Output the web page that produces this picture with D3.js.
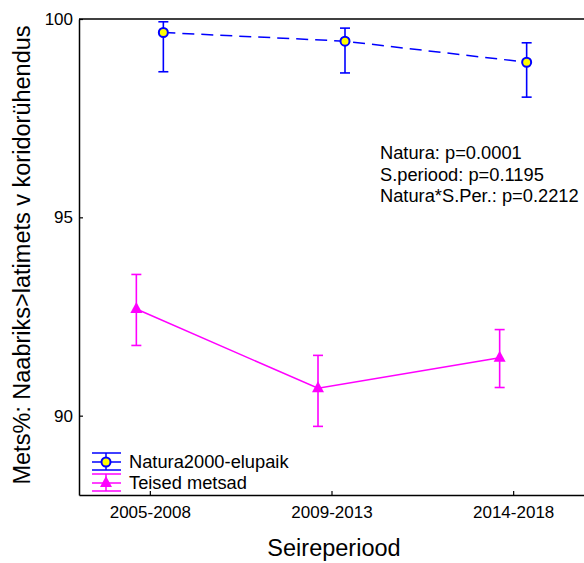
<!DOCTYPE html>
<html>
<head>
<meta charset="utf-8">
<script src="https://cdn.jsdelivr.net/npm/d3@7"></script>
<style>
  body { margin: 0; background: #fff; }
  svg { display: block; font-family: "Liberation Sans", Arial, sans-serif; }
</style>
</head>
<body>
<script>
// data
const periods = ["2005-2008", "2009-2013", "2014-2018"];
const naturaMean = [99.66, 99.44, 98.91];
const naturaLow = [98.67, 98.64, 98.03];
const naturaHigh = [99.93, 99.77, 99.40];
const teisedMean = [92.69, 90.69, 91.46];
const teisedLow = [91.77, 89.73, 90.71];
const teisedHigh = [93.56, 91.52, 92.17];
const yTicks = [90, 95, 100];
const seriesNames = ["Natura2000-elupaik", "Teised metsad"];
const pLines = ["Natura: p=0.0001", "S.periood: p=0.1195", "Natura*S.Per.: p=0.2212"];

const w = 584, h = 563;
const plotL = 79, plotT = 19, plotR = 584, plotB = 495;

const svg = d3.select("body").append("svg")
  .attr("width", w)
  .attr("height", h);

const x = d3.scalePoint().domain(periods).range([plotL, plotR]).padding(0.39);
const y = d3.scaleLinear().domain([88, 100]).range([plotB, plotT]);

// axes, ticks pointing inward
const xAxis = svg.append("g")
  .attr("transform", `translate(0,${plotB})`)
  .call(d3.axisBottom(x).tickSizeInner(-4).tickSizeOuter(0).tickPadding(11));
const yAxis = svg.append("g")
  .attr("transform", `translate(${plotL},0)`)
  .call(d3.axisLeft(y).tickValues(yTicks).tickSizeInner(-4).tickSizeOuter(0).tickPadding(6));
[xAxis, yAxis].forEach(function(g) {
  g.select(".domain").attr("stroke", "#000").attr("stroke-width", 1.5);
  g.selectAll(".tick line").attr("stroke", "#000").attr("stroke-width", 1.2);
  g.selectAll("text").attr("fill", "#000").attr("font-size", "17px")
    .attr("font-family", "'Liberation Sans', Arial, sans-serif");
});
// top frame line
svg.append("line")
  .attr("x1", plotL).attr("x2", plotR)
  .attr("y1", plotT).attr("y2", plotT)
  .attr("stroke", "#000").attr("stroke-width", 1.5);

function drawSeries(means, lows, highs, dx, color, dash, marker) {
  const pts = periods.map(function(p, i) {
    return { x: x(p) + dx, m: means[i], lo: lows[i], hi: highs[i] };
  });
  const g = svg.append("g");
  g.append("path")
    .datum(pts)
    .attr("fill", "none")
    .attr("stroke", color)
    .attr("stroke-width", 1.5)
    .attr("stroke-dasharray", dash)
    .attr("d", d3.line().x(d => d.x).y(d => y(d.m)));
  const eb = g.selectAll(".eb").data(pts).enter().append("g");
  eb.append("line")
    .attr("x1", d => d.x).attr("x2", d => d.x)
    .attr("y1", d => y(d.lo)).attr("y2", d => y(d.hi))
    .attr("stroke", color).attr("stroke-width", 1.6);
  ["lo", "hi"].forEach(function(k) {
    eb.append("line")
      .attr("x1", d => d.x - 5).attr("x2", d => d.x + 5)
      .attr("y1", d => y(d[k])).attr("y2", d => y(d[k]))
      .attr("stroke", color).attr("stroke-width", 1.6);
  });
  eb.each(function(d) {
    marker(d3.select(this), d.x, y(d.m));
  });
}

function circleMarker(sel, cx, cy) {
  sel.append("circle")
    .attr("cx", cx).attr("cy", cy).attr("r", 4.5)
    .attr("fill", "#ffff00").attr("stroke", "#0000ff").attr("stroke-width", 2);
}
function triMarker(sel, cx, cy) {
  sel.append("path")
    .attr("transform", `translate(${cx},${cy})`)
    .attr("d", "M0,-7L6,4L-6,4Z")
    .attr("fill", "#ff00ff");
}

drawSeries(teisedMean, teisedLow, teisedHigh, -13.5, "#ff00ff", null, triMarker);
drawSeries(naturaMean, naturaLow, naturaHigh, 13.5, "#0000ff", "12,7", circleMarker);

// p-value annotation
svg.append("g").selectAll("text")
  .data(pLines).enter().append("text")
  .attr("x", 380)
  .attr("y", (d, i) => 159 + i * 21.5)
  .attr("font-size", "18.3px")
  .attr("fill", "#000")
  .text(d => d);

// legend
const legend = svg.append("g");
const legendColors = ["#0000ff", "#ff00ff"];
const legendMarkers = [circleMarker, triMarker];
seriesNames.forEach(function(name, i) {
  const cy = 462 + i * 21;
  const c = legendColors[i];
  [-9, 0, 8].forEach(function(off) {
    legend.append("line")
      .attr("x1", 92).attr("x2", 121)
      .attr("y1", cy + off).attr("y2", cy + off)
      .attr("stroke", c).attr("stroke-width", 1.5);
  });
  legend.append("line")
    .attr("x1", 106).attr("x2", 106)
    .attr("y1", cy - 9).attr("y2", cy + 8)
    .attr("stroke", c).attr("stroke-width", 1.5);
  legendMarkers[i](legend, 106, cy);
  legend.append("text")
    .attr("x", 129).attr("y", cy + 6)
    .attr("font-size", "18.3px")
    .attr("fill", "#000")
    .text(name);
});

// axis titles
svg.append("text")
  .attr("x", 334)
  .attr("y", 556)
  .attr("text-anchor", "middle")
  .attr("font-size", "23.5px")
  .attr("fill", "#000")
  .text("Seireperiood");
svg.append("text")
  .attr("transform", `translate(30,${255}) rotate(-90)`)
  .attr("text-anchor", "middle")
  .attr("font-size", "23.5px")
  .attr("fill", "#000")
  .text("Mets%: Naabriks>latimets v koridorühendus");
</script>
</body>
</html>
